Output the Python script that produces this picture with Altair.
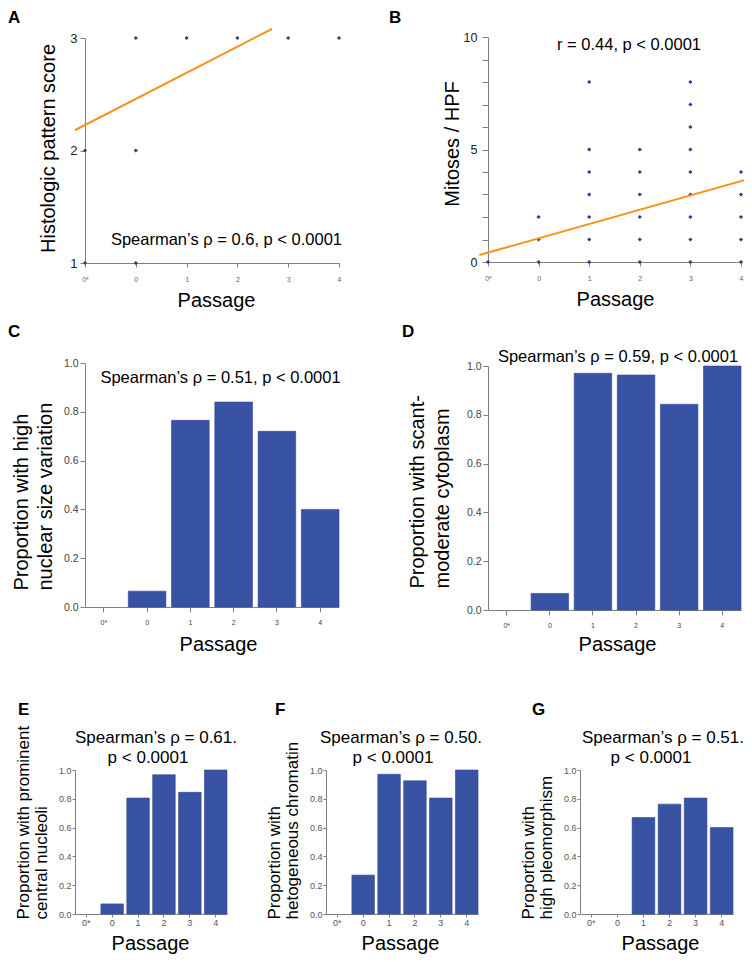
import json
import altair as alt
import pandas as pd

W, H = 736, 946
FONT = "Liberation Sans"
BAR = "#3953a4"
BAR_EDGE = "#2f4590"
DOT = "#2e3d8f"
ORANGE = "#f7941d"
AXIS = "#808080"

passage_labels = ["0*", "0", "1", "2", "3", "4"]

# Panel A - histologic pattern score
hist_passage = ["0*", "0*", "0", "0", "0", "1", "2", "3", "4"]
hist_score = [1, 2, 1, 2, 3, 3, 3, 3, 3]
hist_fit_x = [-0.2, 3.68]
hist_fit_y = [2.18, 3.08]

# Panel B - mitoses / HPF
mit_passage = (["0*"] + ["0"] * 3 + ["1"] * 7 + ["2"] * 6 + ["3"] * 9 + ["4"] * 5)
mit_count = ([0] + [0, 1, 2] + [0, 1, 2, 3, 4, 5, 8] + [0, 1, 2, 3, 4, 5]
             + [0, 1, 2, 3, 4, 5, 6, 7, 8] + [0, 1, 2, 3, 4])
mit_fit_x = [-0.17, 5.2]
mit_fit_y = [0.31, 3.72]

# Panels C-G - proportions per passage
nuclear_size = [0, 0.065, 0.765, 0.84, 0.72, 0.40]
scant_cytoplasm = [0, 0.068, 0.97, 0.963, 0.843, 1.0]
nucleoli = [0, 0.07, 0.805, 0.967, 0.845, 1.0]
chromatin = [0, 0.27, 0.97, 0.925, 0.805, 1.0]
pleomorphism = [0, 0, 0.67, 0.763, 0.805, 0.6]

LABEL_EXPR = json.dumps(passage_labels).replace('"', "'") + "[datum.value]"


def p(v):
    """page pixel -> plot pixel"""
    return v - 8


def text(t, x, y, size, align="center", weight="normal"):
    kw = dict(text=t, fontSize=size, font=FONT, align=align, baseline="alphabetic",
              fontWeight=weight, color="black")
    return alt.Chart(alt.Data(values=[{}])).mark_text(**kw).encode(
        x=alt.value(x), y=alt.value(y))


def scatter_panel(px, py, fx, fy, x0, x1, ybot, ytop, ydom, yvals, ytitle,
                  ytitle_x, ytitle_y, ylab_size, ytick, ypad, ylabel_expr, xtitle_x):
    pts = pd.DataFrame({"x": [passage_labels.index(v) for v in px], "y": py})
    fit = pd.DataFrame({"x": fx, "y": fy})
    xs = alt.Scale(domain=[0, 5], range=[p(x0), p(x1)], nice=False, zero=False)
    ys = alt.Scale(domain=ydom, range=[p(ybot), p(ytop)], nice=False, zero=False)
    xaxis = alt.Axis(orient="bottom", offset=p(ybot) - H, values=list(range(6)),
                     labelExpr=LABEL_EXPR, tickSize=4, labelPadding=8, labelFontSize=7,
                     labelColor="#666666", labelOverlap=False, labelFlush=False,
                     title="Passage", titleX=p(xtitle_x), titleY=43,
                     titleAlign="center", titleBaseline="alphabetic", titleFontSize=20)
    yaxis = alt.Axis(orient="left", offset=-p(x0), values=yvals, tickSize=ytick,
                     labelPadding=ypad, labelFontSize=ylab_size, labelColor="#222222",
                     labelOverlap=False, labelFlush=False, labelExpr=ylabel_expr,
                     title=ytitle, titleAngle=270, titleAlign="center",
                     titleBaseline="alphabetic", titleX=ytitle_x, titleY=p(ytitle_y),
                     titleFontSize=20)
    xe = alt.X("x:Q", scale=xs, axis=xaxis)
    ye = alt.Y("y:Q", scale=ys, axis=yaxis)
    dots = alt.Chart(pts).mark_point(shape="diamond", filled=True, size=18, color=DOT,
                                     opacity=1).encode(x=xe, y=ye)
    line = alt.Chart(fit).mark_line(color=ORANGE, strokeWidth=2, clip=False).encode(x=xe, y=ye)
    return [dots, line]


def bar_panel(vals, x0, x1, ybot, ytop, ytitle, ytitle_x, ytitle_start, ytitle_size,
              ytitle_lh, xlab_size, xtick, xpad, ylab_size, ytick, ypad,
              xtitle_x, xtitle_y, label_color):
    df = pd.DataFrame({"x": passage_labels, "y": vals})
    xs = alt.Scale(type="band", domain=passage_labels, range=[p(x0), p(x1)],
                   paddingInner=0.13, paddingOuter=0)
    ys = alt.Scale(domain=[0, 1], range=[p(ybot), p(ytop)], nice=False, zero=False)
    xaxis = alt.Axis(orient="bottom", offset=p(ybot) - H, tickSize=xtick,
                     labelPadding=xpad, labelFontSize=xlab_size, labelColor=label_color,
                     labelAngle=0, title="Passage", titleX=p(xtitle_x), titleY=xtitle_y,
                     titleAlign="center", titleBaseline="alphabetic", titleFontSize=20)
    yaxis = alt.Axis(orient="left", offset=-p(x0), values=[0, 0.2, 0.4, 0.6, 0.8, 1.0],
                     format=".1f", tickSize=ytick, labelPadding=ypad,
                     labelFontSize=ylab_size, labelColor=label_color,
                     labelOverlap=False, labelFlush=False,
                     title=ytitle, titleAngle=270, titleAlign="left",
                     titleBaseline="alphabetic", titleX=ytitle_x, titleY=p(ytitle_start),
                     titleFontSize=ytitle_size, titleLineHeight=ytitle_lh)
    bars = alt.Chart(df).transform_filter("datum.y > 0").mark_bar(
        color=BAR, stroke=BAR_EDGE, strokeWidth=0.6).encode(
        x=alt.X("x:N", scale=xs, axis=xaxis, sort=passage_labels),
        y=alt.Y("y:Q", scale=ys, axis=yaxis))
    return [bars]


panelA = alt.layer(
    *scatter_panel(hist_passage, hist_score, hist_fit_x, hist_fit_y, 85, 339, 263, 38,
                   [1, 3], [1, 2, 3], "Histologic pattern score", -31, 148, 13, 5, 3,
                   "format(datum.value, 'd')", 216),
    text("Spearman\u2019s \u03c1 = 0.6, p < 0.0001", p(342), p(245), 16.5, align="right"),
)

panelB = alt.layer(
    *scatter_panel(mit_passage, mit_count, mit_fit_x, mit_fit_y, 488, 741, 262, 37,
                   [0, 10], list(range(11)), "Mitoses / HPF", -29.5, 143.5, 12.5, 6, 5,
                   "datum.value % 5 === 0 ? format(datum.value, 'd') : ''", 615),
    text("r = 0.44, p < 0.0001", p(629), p(49.5), 16.5),
)

panelC = alt.layer(
    *bar_panel(nuclear_size, 85, 339, 607, 363,
               ["Proportion with high", "nuclear size variation"], -57.5, 590, 20, 24,
               7, 5, 6, 10.5, 5, 2, 218, 43, "#444444"),
    text("Spearman\u2019s \u03c1 = 0.51, p < 0.0001", p(220.5), p(382.5), 16.5),
)

panelD = alt.layer(
    *bar_panel(scant_cytoplasm, 488, 741, 610, 366,
               ["Proportion with scant-", "moderate cytoplasm"], -64.5, 588, 20, 25,
               7, 5, 6, 10.5, 5, 2, 617, 40, "#444444"),
    text("Spearman\u2019s \u03c1 = 0.59, p < 0.0001", p(618), p(362), 16.5),
)

BOT_Y0, BOT_Y1 = 914, 770

panelE = alt.layer(
    *bar_panel(nucleoli, 75, 227, BOT_Y0, BOT_Y1,
               ["Proportion with prominent", "central nucleoli"], -47, 919, 17, 18.5,
               9, 3, 1, 9, 3, 1, 150, 35, "#555555"),
    text("Spearman\u2019s \u03c1 = 0.61.", p(156), p(743), 17),
    text("p < 0.0001", p(148), p(763), 17),
)

panelF = alt.layer(
    *bar_panel(chromatin, 326, 478, BOT_Y0, BOT_Y1,
               ["Proportion with", "hetogeneous chromatin"], -47, 919, 17, 18.5,
               9, 3, 1, 9, 3, 1, 400, 35, "#555555"),
    text("Spearman\u2019s \u03c1 = 0.50.", p(401), p(743), 17),
    text("p < 0.0001", p(393), p(763), 17),
)

panelG = alt.layer(
    *bar_panel(pleomorphism, 580, 733, BOT_Y0, BOT_Y1,
               ["Proportion with", "high pleomorphism"], -47, 919, 17, 18.5,
               9, 3, 1, 9, 3, 1, 660, 35, "#555555"),
    text("Spearman\u2019s \u03c1 = 0.51.", p(663), p(743), 17),
    text("p < 0.0001", p(651), p(763), 17),
)

letters = alt.layer(
    text("A", 0, 15, 17, align="left", weight="bold"),
    text("B", p(389), 15, 17, align="left", weight="bold"),
    text("C", 0, p(337), 17, align="left", weight="bold"),
    text("D", p(402), p(337), 17, align="left", weight="bold"),
    text("E", p(18), p(715), 17, align="left", weight="bold"),
    text("F", p(275), p(715), 17, align="left", weight="bold"),
    text("G", p(532), p(715), 17, align="left", weight="bold"),
)

chart = alt.layer(
    panelA, panelB, panelC, panelD, panelE, panelF, panelG, letters
).resolve_scale(x="independent", y="independent").properties(
    width=W, height=H, padding=0, autosize=alt.AutoSizeParams(type="none")
).configure_view(strokeWidth=0).configure_axis(
    grid=False, domainColor=AXIS, tickColor=AXIS, domainWidth=1, tickWidth=1,
    labelFont=FONT, titleFont=FONT, titleFontWeight="normal", titleColor="black",
    labelFlush=False, labelOverlap=False
)

chart.save("out.html", embed_options={"renderer": "svg", "actions": False})
